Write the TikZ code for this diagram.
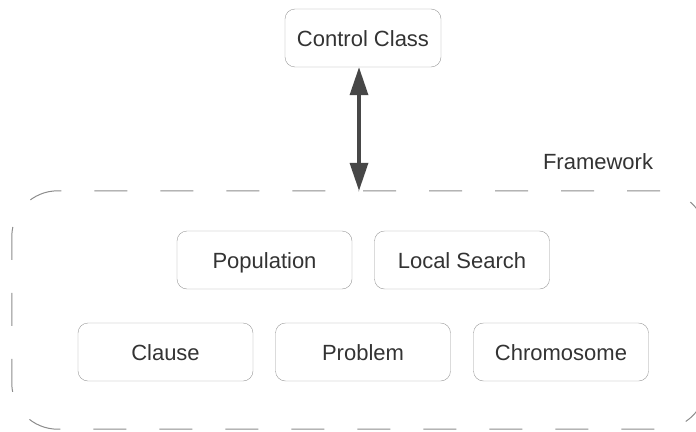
\documentclass[tikz,border=0pt]{standalone}
\usepackage{fontspec}
\setmainfont{Liberation Sans}
\usetikzlibrary{arrows.meta,positioning}

\begin{document}
\begin{tikzpicture}[x=1pt,y=-1pt,font=\fontsize{22}{26}\selectfont,
  classbox/.style={rectangle,draw=black!40,rounded corners=10pt,minimum width=175pt,minimum height=58pt,inner sep=0pt,text height=16.5pt,text depth=0pt,text=black!80},
  framebox/.style={rectangle,minimum width=694pt,minimum height=238pt,inner sep=0pt},
  frameline/.style={draw=black!45,line width=1pt,rounded corners=46pt,dash pattern=on 33pt off 33pt,dash phase=62pt},
  bothway/.style={{Triangle[length=28pt,width=18pt]}-{Triangle[length=28pt,width=18pt]},line width=3.4pt,draw=black!72}]

\useasboundingbox (0,0) rectangle (696,431);

% framework container
\node [framebox] (frame) at (359, 310) {};
\draw [frameline] (frame.north) -| (frame.east) |- (frame.south) -| (frame.west) |- (frame.north);
\node [text=black!80] (fwlabel) at (598, 162) {Framework};

\node [classbox,minimum width=156pt] (control) at (363, 38) {Control Class};
\node [classbox] (population) at (264.5, 260) {Population};
\node [classbox] (localsearch) at (462, 260) {Local Search};
\node [classbox] (clause) at (165.5, 352) {Clause};
\node [classbox] (problem) at (363, 352) {Problem};
\node [classbox] (chromosome) at (561, 352) {Chromosome};

\draw [bothway] (control.south -| frame.north) to (frame.north);
\end{tikzpicture}
\end{document}
